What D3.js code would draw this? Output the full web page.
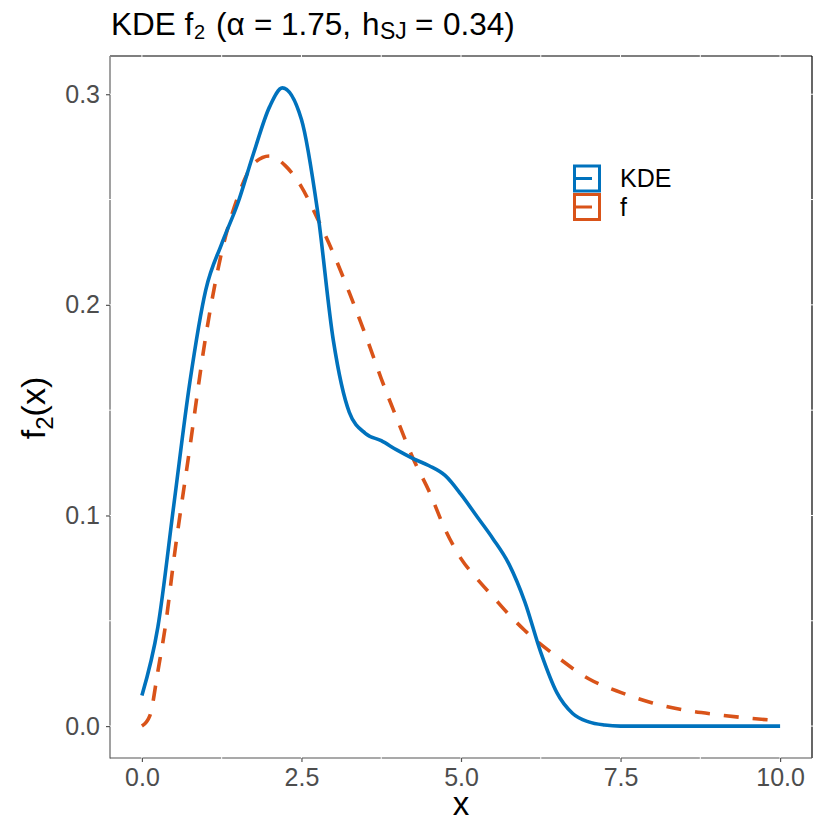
<!DOCTYPE html>
<html>
<head>
<meta charset="utf-8">
<script src="https://cdn.jsdelivr.net/npm/d3@7"></script>
<style>
  body { margin: 0; background: #fff; }
  text { font-family: "Liberation Sans", Arial, Helvetica, sans-serif; }
</style>
</head>
<body>
<div id="chart"></div>
<script>
// valores
var xKde = [0, 0.25, 0.5, 0.75, 1, 1.25, 1.5, 1.75, 2, 2.2, 2.5, 2.75, 3, 3.25, 3.5, 3.75, 4, 4.25, 4.5, 4.75, 5, 5.25, 5.5, 5.75, 6, 6.25, 6.5, 6.75, 7, 7.25, 7.5, 8, 9, 10]
var kde = [0.0145, 0.047, 0.105, 0.163, 0.207, 0.229, 0.248, 0.272, 0.294, 0.303, 0.288, 0.245, 0.183, 0.149, 0.139, 0.1355, 0.131, 0.127, 0.1236, 0.119, 0.110, 0.0995, 0.089, 0.077, 0.059, 0.035, 0.016, 0.006, 0.002, 0.0005, 0, 0, 0, 0]

var xF = [0, 0.125, 0.25, 0.375, 0.5, 0.75, 1, 1.25, 1.5, 1.75, 2, 2.25, 2.5, 2.75, 3, 3.25, 3.5, 3.75, 4, 4.25, 4.5, 4.75, 5, 5.25, 5.5, 5.75, 6, 6.5, 7, 7.5, 8, 8.5, 9, 9.5, 10]
var fVals = [0, 0.005, 0.026, 0.049, 0.079, 0.132, 0.185, 0.225, 0.251, 0.267, 0.2707, 0.266, 0.256, 0.241, 0.2244, 0.2058, 0.186, 0.165, 0.1456, 0.127, 0.1115, 0.0935, 0.0795, 0.070, 0.0615, 0.053, 0.0454, 0.033, 0.0225, 0.016, 0.011, 0.0076, 0.0055, 0.0038, 0.0025]

var xTicks = [0, 2.5, 5, 7.5, 10]
var yTicks = [0, 0.1, 0.2, 0.3]
var xMinor = [1.25, 3.75, 6.25, 8.75]
var yMinor = [0.05, 0.15, 0.25]

var series = ["KDE", "f"]
var colores = ["#0072BD", "#D95319"]

var W = 830, H = 830
var pLeft = 110, pRight = 812, pTop = 56, pBottom = 758

var svg = d3.select("#chart").append("svg")
    .attr("width", W)
    .attr("height", H)

// rango con la expansion de 5% de ggplot
var yMax = d3.max(kde), yMin = 0
var padY = (yMax - yMin) * 0.05
var x = d3.scaleLinear().domain([-0.5, 10.5]).range([pLeft, pRight])
var y = d3.scaleLinear().domain([yMin - padY, yMax + padY]).range([pBottom, pTop])

// borde del panel
svg.append("line").attr("x1", pLeft).attr("x2", pRight).attr("y1", pTop).attr("y2", pTop)
    .attr("stroke", "#000").attr("stroke-width", 1.2)
svg.append("line").attr("x1", pRight).attr("x2", pRight).attr("y1", pTop).attr("y2", pBottom)
    .attr("stroke", "#000").attr("stroke-width", 1.2)
svg.append("line").attr("x1", pLeft).attr("x2", pLeft).attr("y1", pTop).attr("y2", pBottom + 0.6)
    .attr("stroke", "#8a8a8a").attr("stroke-width", 1.6)
svg.append("line").attr("x1", pLeft).attr("x2", pRight).attr("y1", pBottom).attr("y2", pBottom)
    .attr("stroke", "#555").attr("stroke-width", 1.2)

// lineas de la grilla en blanco (cortan el borde)
var gx = xTicks.concat(xMinor)
var gy = yTicks.concat(yMinor)
svg.selectAll(".gx").data(gx).enter().append("line")
    .attr("x1", function (d) { return x(d) }).attr("x2", function (d) { return x(d) })
    .attr("y1", pTop - 1).attr("y2", pBottom + 1)
    .attr("stroke", "#fff").attr("stroke-width", 1)
svg.selectAll(".gy").data(gy).enter().append("line")
    .attr("y1", function (d) { return y(d) }).attr("y2", function (d) { return y(d) })
    .attr("x1", pLeft - 1).attr("x2", pRight + 1)
    .attr("stroke", "#fff").attr("stroke-width", 1)

// ejes
var ejeX = svg.append("g").attr("transform", "translate(0," + pBottom + ")")
    .call(d3.axisBottom(x).tickValues(xTicks).tickSize(4).tickPadding(6)
        .tickFormat(d3.format(".1f")))
var ejeY = svg.append("g").attr("transform", "translate(" + pLeft + ",0)")
    .call(d3.axisLeft(y).tickValues(yTicks).tickSize(4).tickPadding(6)
        .tickFormat(d3.format(".1f")))
ejeX.select(".domain").remove()
ejeY.select(".domain").remove()
svg.selectAll(".tick line").attr("stroke", "#555").attr("stroke-width", 1.2)
svg.selectAll(".tick text").attr("fill", "#4d4d4d").style("font-size", "25px")
    .style("font-family", "Liberation Sans, Arial, sans-serif")

// curvas
var linea = d3.line()
    .x(function (d) { return x(d[0]) })
    .y(function (d) { return y(d[1]) })
    .curve(d3.curveMonotoneX)

svg.append("path")
    .datum(xF.map(function (v, i) { return [v, fVals[i]] }))
    .attr("d", linea)
    .attr("fill", "none")
    .attr("stroke", colores[1])
    .attr("stroke-width", 3.6)
    .attr("stroke-dasharray", "15,14")

svg.append("path")
    .datum(xKde.map(function (v, i) { return [v, kde[i]] }))
    .attr("d", linea)
    .attr("fill", "none")
    .attr("stroke", colores[0])
    .attr("stroke-width", 3.6)
    .attr("stroke-linejoin", "round")

// leyenda
var leyenda = svg.selectAll(".ley").data(series).enter().append("g")
    .attr("transform", function (d, i) { return "translate(574," + (165.5 + i * 28.5) + ")" })
leyenda.append("rect")
    .attr("x", 0.5).attr("y", 0.5).attr("width", 25).attr("height", 25)
    .attr("fill", "#fff")
    .attr("stroke", function (d, i) { return colores[i] })
    .attr("stroke-width", 3)
leyenda.append("line")
    .attr("x1", 0).attr("x2", 18).attr("y1", 13).attr("y2", 13)
    .attr("stroke", function (d, i) { return colores[i] })
    .attr("stroke-width", 3)
leyenda.append("text")
    .attr("x", 46).attr("y", 21.5)
    .style("font-size", "25px")
    .text(function (d) { return d })

// titulo (plotmath deja espacio alrededor del =)
var titulo = svg.append("text").attr("y", 35).style("font-size", "31.5px")
titulo.append("tspan").attr("x", 111).text("KDE f")
titulo.append("tspan").attr("x", 194).attr("dy", 4).style("font-size", "20px").text("2")
titulo.append("tspan").attr("x", 216).attr("dy", -4).text("(\u03b1")
titulo.append("tspan").attr("x", 254).text("=")
titulo.append("tspan").attr("x", 281).text("1.75,")
titulo.append("tspan").attr("x", 362).text("h")
titulo.append("tspan").attr("x", 380).attr("dy", 4).style("font-size", "23px").text("SJ")
titulo.append("tspan").attr("x", 415).attr("dy", -4).text("=")
titulo.append("tspan").attr("x", 443).text("0.34)")

// titulos de ejes
svg.append("text")
    .attr("x", x(5)).attr("y", 815)
    .attr("text-anchor", "middle")
    .style("font-size", "33px")
    .text("x")

var ylab = svg.append("text")
    .attr("transform", "translate(45,408) rotate(-90)")
    .attr("text-anchor", "middle")
    .style("font-size", "34px")
ylab.append("tspan").text("f")
ylab.append("tspan").attr("dy", 8).style("font-size", "24px").text("2")
ylab.append("tspan").attr("dy", -8).text("(x)")
</script>
</body>
</html>
